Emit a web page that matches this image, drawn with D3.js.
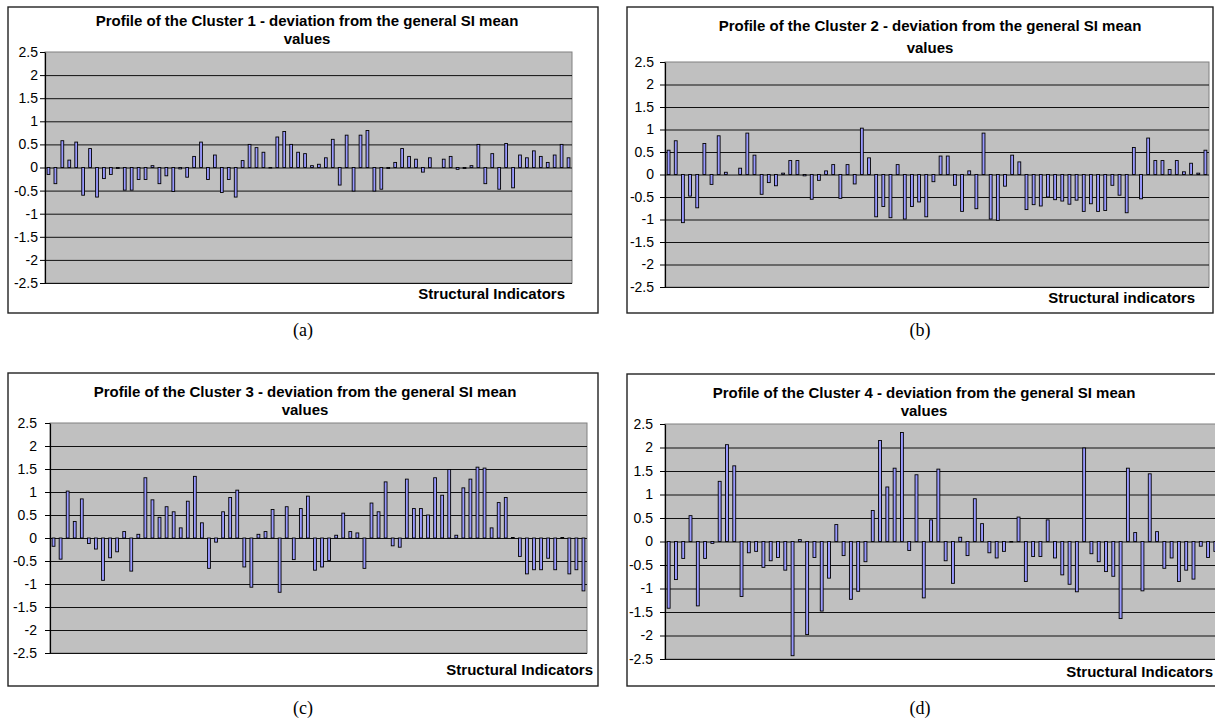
<!DOCTYPE html>
<html>
<head>
<meta charset="utf-8">
<script src="https://cdn.jsdelivr.net/npm/d3@7"></script>
<style>
  html, body { margin: 0; padding: 0; background: #ffffff; }
  svg { display: block; }
</style>
</head>
<body>
<svg id="chart" width="1215" height="722"></svg>
<script>
// Deviation of each cluster's structural-indicator means from the general SI mean
const indicators = d3.range(1, 77);

const cluster1 = [
  -0.15, -0.35, 0.58, 0.16, 0.55, -0.60, 0.41, -0.64, -0.24, -0.15,
  -0.02, -0.49, -0.49, -0.26, -0.26, 0.04, -0.35, -0.18, -0.52, -0.03,
  -0.21, 0.24, 0.55, -0.26, 0.27, -0.54, -0.26, -0.64, 0.15, 0.50,
  0.43, 0.33, -0.01, 0.66, 0.78, 0.50, 0.33, 0.30, 0.04, 0.07,
  0.21, 0.61, -0.38, 0.70, -0.51, 0.70, 0.80, -0.51, -0.47, -0.02,
  0.11, 0.41, 0.24, 0.18, -0.10, 0.21, 0.00, 0.18, 0.24, -0.04,
  -0.02, 0.04, 0.50, -0.35, 0.30, -0.47, 0.52, -0.44, 0.27, 0.21,
  0.36, 0.24, 0.11, 0.27, 0.50, 0.21
];

const cluster2 = [
  0.54, 0.75, -1.07, -0.48, -0.74, 0.69, -0.22, 0.86, 0.05, 0.00,
  0.14, 0.92, 0.43, -0.44, -0.18, -0.25, 0.03, 0.31, 0.31, -0.03,
  -0.55, -0.13, 0.08, 0.22, -0.53, 0.22, -0.21, 1.03, 0.37, -0.94,
  -0.71, -0.96, 0.22, -0.99, -0.71, -0.61, -0.94, -0.16, 0.41, 0.41,
  -0.24, -0.82, 0.08, -0.76, 0.92, -0.99, -1.02, -0.26, 0.43, 0.28,
  -0.78, -0.67, -0.70, -0.50, -0.56, -0.59, -0.66, -0.57, -0.82, -0.65,
  -0.82, -0.80, -0.24, -0.46, -0.85, 0.60, -0.54, 0.81, 0.31, 0.31,
  0.11, 0.31, 0.06, 0.25, 0.03, 0.54
];

const cluster3 = [
  -0.18, -0.46, 1.02, 0.36, 0.85, -0.12, -0.24, -0.92, -0.43, -0.30,
  0.14, -0.72, 0.08, 1.31, 0.83, 0.45, 0.68, 0.57, 0.22, 0.80,
  1.34, 0.33, -0.66, -0.09, 0.57, 0.88, 1.04, -0.63, -1.07, 0.08,
  0.14, 0.62, -1.18, 0.68, -0.47, 0.64, 0.91, -0.70, -0.63, -0.49,
  0.06, 0.54, 0.14, 0.11, -0.66, 0.76, 0.57, 1.22, -0.17, -0.20,
  1.28, 0.64, 0.64, 0.50, 1.31, 0.93, 1.49, 0.06, 1.09, 1.28,
  1.54, 1.52, 0.22, 0.77, 0.88, 0.01, -0.40, -0.78, -0.69, -0.69,
  -0.44, -0.69, 0.01, -0.78, -0.69, -1.15
];

const cluster4 = [
  -1.42, -0.81, -0.36, 0.55, -1.37, -0.36, -0.04, 1.28, 2.06, 1.61,
  -1.17, -0.24, -0.21, -0.55, -0.41, -0.34, -0.61, -2.43, 0.04, -1.98,
  -0.34, -1.48, -0.78, 0.36, -0.30, -1.23, -1.06, -0.43, 0.66, 2.15,
  1.16, 1.56, 2.32, -0.19, 1.42, -1.20, 0.46, 1.54, -0.41, -0.89,
  0.09, -0.30, 0.91, 0.38, -0.24, -0.35, -0.21, -0.01, 0.52, -0.85,
  -0.32, -0.32, 0.46, -0.35, -0.71, -0.91, -1.07, 1.99, -0.26, -0.43,
  -0.64, -0.74, -1.64, 1.56, 0.19, -1.05, 1.44, 0.21, -0.57, -0.35,
  -0.85, -0.61, -0.80, -0.10, -0.34, -0.21
];

const yTicks = [2.5, 2, 1.5, 1, 0.5, 0, -0.5, -1, -1.5, -2, -2.5];

const titleLine1 = [
  "Profile of the Cluster 1 - deviation from the general SI mean",
  "Profile of the Cluster 2 - deviation from the general SI mean",
  "Profile of the Cluster 3 - deviation from the general SI mean",
  "Profile of the Cluster 4 - deviation from the general SI mean"
];
const titleLine2 = ["values", "values", "values", "values"];
const axisTitles = ["Structural Indicators", "Structural indicators", "Structural Indicators", "Structural Indicators"];
const captions = ["(a)", "(b)", "(c)", "(d)"];

// Panel geometry (chart frame, plot area, text anchors)
const panels = [
  { series: cluster1, box: [8, 7, 590, 306],   plot: [45, 52, 572, 283],   tx: 307, t1: 26,  t2: 44,  axRight: 565,  axY: 299, tickGap: 7,  cap: [303, 336] },
  { series: cluster2, box: [627, 7, 586, 306], plot: [665, 62, 1209, 287], tx: 930, t1: 31,  t2: 53,  axRight: 1195, axY: 303, tickGap: 11, cap: [920, 336] },
  { series: cluster3, box: [8, 373, 590, 313], plot: [50, 423, 587, 653],  tx: 305, t1: 397, t2: 415, axRight: 593,  axY: 675, tickGap: 13, cap: [303, 714] },
  { series: cluster4, box: [627, 374, 600, 312], plot: [665, 424, 1219, 659], tx: 924, t1: 398, t2: 416, axRight: 1213, axY: 677, tickGap: 12, cap: [920, 714] }
];

const svg = d3.select("#chart");
const sans = "'Liberation Sans', Arial, Helvetica, sans-serif";
const serif = "'Liberation Serif', 'Times New Roman', Times, serif";

panels.forEach((p, k) => {
  const g = svg.append("g");
  const [bx, by, bw, bh] = p.box;
  const [pl, pt, pr, pb] = p.plot;

  // chart frame
  g.append("rect")
    .attr("x", bx).attr("y", by).attr("width", bw).attr("height", bh)
    .attr("fill", "#ffffff").attr("stroke", "#222").attr("stroke-width", 1.4);

  const x = d3.scaleBand().domain(indicators).range([pl, pr]).paddingInner(0.6).paddingOuter(0.3);
  const y = d3.scaleLinear().domain([-2.5, 2.5]).range([pb, pt]);

  // plot area
  g.append("rect")
    .attr("x", pl).attr("y", pt).attr("width", pr - pl).attr("height", pb - pt)
    .attr("fill", "#c0c0c0").attr("stroke", "#808080").attr("stroke-width", 1);

  // horizontal gridlines
  const grid = g.append("g").attr("transform", `translate(${pl},0)`)
    .call(d3.axisLeft(y).tickValues(yTicks.filter(v => v < 2.5)).tickSize(-(pr - pl)).tickFormat(""));
  grid.select(".domain").remove();
  grid.selectAll("line").attr("stroke", "#111").attr("stroke-width", 1);

  // bars
  const vals = p.series;
  g.append("g").selectAll("rect").data(indicators).join("rect")
    .attr("x", d => x(d))
    .attr("width", x.bandwidth())
    .attr("y", (d, i) => y(Math.max(0, vals[i])))
    .attr("height", (d, i) => Math.abs(y(vals[i]) - y(0)))
    .attr("fill", "#9999ff")
    .attr("stroke", "#000")
    .attr("stroke-width", 0.9);

  // value axis
  const ax = g.append("g").attr("transform", `translate(${pl},0)`)
    .call(d3.axisLeft(y).tickValues(yTicks).tickSize(5).tickPadding(p.tickGap - 5).tickFormat(d => String(d)).tickSizeOuter(0));
  ax.select(".domain").attr("stroke", "#000").attr("stroke-width", 1.2);
  ax.selectAll("line").attr("stroke", "#000");
  ax.selectAll("text").attr("font-family", sans).attr("font-size", 14).attr("fill", "#000");

  // titles
  g.append("text").attr("x", p.tx).attr("y", p.t1).attr("text-anchor", "middle")
    .attr("font-family", sans).attr("font-size", 15).attr("font-weight", "bold").text(titleLine1[k]);
  g.append("text").attr("x", p.tx).attr("y", p.t2).attr("text-anchor", "middle")
    .attr("font-family", sans).attr("font-size", 15).attr("font-weight", "bold").text(titleLine2[k]);

  g.append("text").attr("x", p.axRight).attr("y", p.axY).attr("text-anchor", "end")
    .attr("font-family", sans).attr("font-size", 15).attr("font-weight", "bold").text(axisTitles[k]);

  svg.append("text").attr("x", p.cap[0]).attr("y", p.cap[1]).attr("text-anchor", "middle")
    .attr("font-family", serif).attr("font-size", 18).text(captions[k]);
});
</script>
</body>
</html>
